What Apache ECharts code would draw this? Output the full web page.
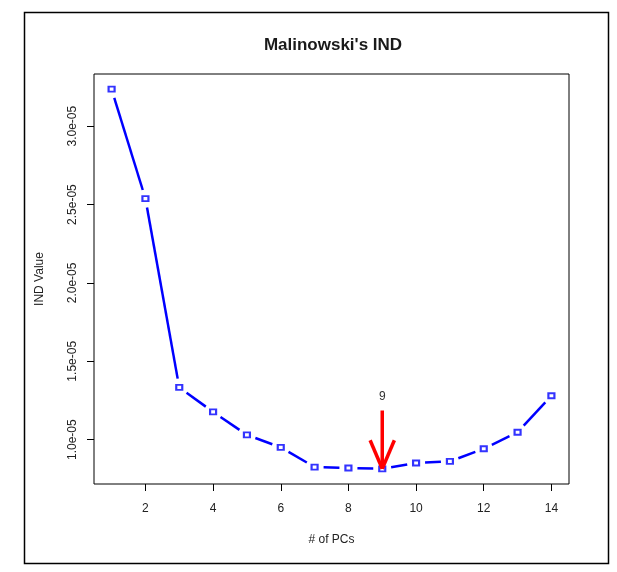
<!DOCTYPE html>
<html>
<head>
<meta charset="utf-8">
<script src="https://cdn.jsdelivr.net/npm/echarts@6/dist/echarts.min.js"></script>
<style>html,body{margin:0;padding:0;background:#fff;}#c{width:617px;height:572px;}</style>
</head>
<body>
<div id="c"></div>
<script>
// Data
var pcs = [1,2,3,4,5,6,7,8,9,10,11,12,13,14];
var indValues = [3.236e-5, 2.538e-5, 1.333e-5, 1.177e-5, 1.030e-5, 0.951e-5, 0.825e-5,
                 0.819e-5, 0.814e-5, 0.851e-5, 0.861e-5, 0.942e-5, 1.047e-5, 1.280e-5];
var xTicks = [2,4,6,8,10,12,14];
var yTicks = [1.0e-5, 1.5e-5, 2.0e-5, 2.5e-5, 3.0e-5];
var arrowX = 9;
var arrowFrom = 1.186e-5;
var arrowTo = 0.814e-5;
var arrowLabelY = 1.277e-5;
var arrowLabel = '9';

var FONT = '"Liberation Sans", Arial, sans-serif';
function fmtE(v){
  var s = v.toExponential(1);
  return s.replace(/e([+-])(\d)$/, 'e$10$2');
}
var pts = pcs.map(function(x,i){return [x, indValues[i]];});
// segments between consecutive points (type="b" style: gaps around points)
var segs = [];
for (var i = 0; i < pcs.length - 1; i++) {
  segs.push([pcs[i], indValues[i], pcs[i+1], indValues[i+1]]);
}

var chart = echarts.init(document.getElementById('c'), null, {renderer:'canvas'});
chart.setOption({
  animation:false,
  backgroundColor:'#fff',
  grid:{left:94, right:48, top:74, bottom:88, show:true, borderColor:'#000', borderWidth:1, backgroundColor:'transparent'},
  graphic:[
    {type:'rect', shape:{x:24.5, y:12.5, width:584, height:551}, style:{fill:'none', stroke:'#000', lineWidth:1.5}, z:-1},
    {type:'text', x:333, y:45, style:{text:"Malinowski's IND", font:'bold 17px '+FONT, fill:'#1a1a1a', textAlign:'center', textVerticalAlign:'middle'}}
  ],
  xAxis:{
    type:'value', min:0.48, max:14.52,
    name:'# of PCs', nameLocation:'middle', nameGap:50,
    nameTextStyle:{fontFamily:FONT, fontSize:12, color:'#222'},
    axisLine:{show:false},
    splitLine:{show:false},
    axisTick:{show:true, inside:false, length:7, customValues:xTicks, lineStyle:{color:'#000', width:1}},
    axisLabel:{customValues:xTicks, margin:19, fontFamily:FONT, fontSize:12, color:'#222'}
  },
  yAxis:{
    type:'value', min:0.717e-5, max:3.333e-5,
    name:'IND Value', nameLocation:'middle', nameGap:48, nameRotate:90,
    nameTextStyle:{fontFamily:FONT, fontSize:12, color:'#222'},
    axisLine:{show:false},
    splitLine:{show:false},
    axisTick:{show:true, inside:false, length:7, customValues:yTicks, lineStyle:{color:'#000', width:1}},
    axisLabel:{customValues:yTicks, rotate:90, margin:15, fontFamily:FONT, fontSize:12, color:'#222', formatter:fmtE}
  },
  series:[
    {type:'custom', z:2, silent:true, data:segs,
      renderItem:function(params, api){
        var a = api.coord([api.value(0), api.value(1)]);
        var b = api.coord([api.value(2), api.value(3)]);
        var dx = b[0]-a[0], dy = b[1]-a[1];
        var len = Math.sqrt(dx*dx+dy*dy);
        var gap = 9;
        if (len <= 2*gap) return null;
        var ux = dx/len, uy = dy/len;
        return {type:'line', shape:{x1:a[0]+ux*gap, y1:a[1]+uy*gap, x2:b[0]-ux*gap, y2:b[1]-uy*gap},
                style:{stroke:'#0000ff', lineWidth:2.5, lineCap:'butt'}};
      }
    },
    {type:'scatter', data:pts, symbol:'rect', symbolSize:[6,5], itemStyle:{color:'#ffffff', borderColor:'#0000ff', borderWidth:2}, z:4, silent:true},
    {type:'custom', z:5, silent:true,
      data:[[arrowX, arrowFrom, arrowTo, arrowLabelY]],
      renderItem:function(params, api){
        var p0 = api.coord([api.value(0), api.value(1)]);
        var p1 = api.coord([api.value(0), api.value(2)]);
        var pl = api.coord([api.value(0), api.value(3)]);
        var hl = 31, ang = 23*Math.PI/180;
        var dx = hl*Math.sin(ang), dy = hl*Math.cos(ang);
        var ls = {stroke:'#ff0000', lineWidth:3.5, lineCap:'butt'};
        return {type:'group', children:[
          {type:'line', shape:{x1:p0[0], y1:p0[1], x2:p1[0], y2:p1[1]}, style:ls},
          {type:'line', shape:{x1:p1[0], y1:p1[1], x2:p1[0]-dx, y2:p1[1]-dy}, style:ls},
          {type:'line', shape:{x1:p1[0], y1:p1[1], x2:p1[0]+dx, y2:p1[1]-dy}, style:ls},
          {type:'text', x:pl[0], y:pl[1], style:{text:arrowLabel, font:'12px '+FONT, fill:'#333', textAlign:'center', textVerticalAlign:'middle'}}
        ]};
      }
    }
  ]
});
</script>
</body>
</html>
